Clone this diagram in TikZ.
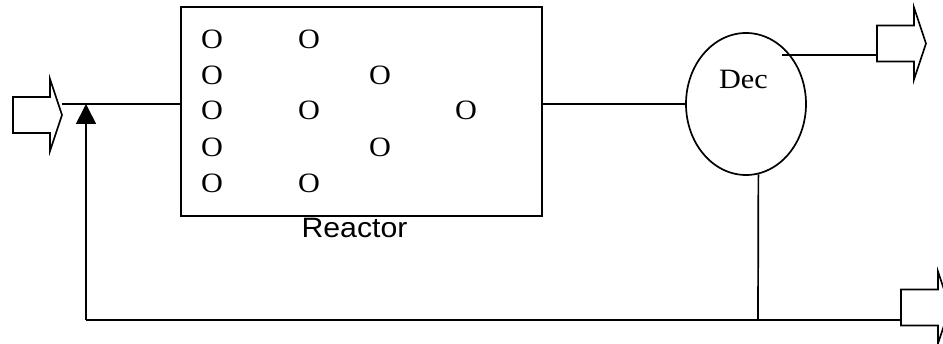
\documentclass[tikz,border=0pt]{standalone}
\usepackage{fontspec}
\setmainfont{Liberation Serif}[FakeStretch=1.08]
\setsansfont{Liberation Sans}[FakeStretch=1.08]
\usetikzlibrary{shapes.geometric,arrows.meta,positioning}
\tikzset{
  flow/.style={line width=1.7pt},
  unit/.style={draw, line width=1.7pt, inner sep=0pt},
  bead/.style={font=\fontsize{28}{30}\selectfont, inner sep=0pt},
  hollowarrow/.pic={\draw[flow] (0,-18)--(37,-18)--(37,-36)--(49,0)--(37,36)--(37,18)--(0,18)--cycle;},
}

\begin{document}
\begin{tikzpicture}[x=1pt,y=1pt]
  \useasboundingbox (0,0) rectangle (943,343);

  % units
  \node[unit, minimum width=361pt, minimum height=209pt] (reactor) at (361.5,231.5) {};
  \node[unit, ellipse, minimum width=120pt, minimum height=142pt] (dec) at (746,239) {};
  \node[bead] (declabel) at (743.5,264) {Dec};
  \node[font=\sffamily\fontsize{28}{30}\selectfont, inner sep=0pt] (reactorlabel) at (354.5,115) {Reactor};

  % beads in the reactor
  \foreach \x/\y [count=\i] in {212/304, 309/304, 212/268, 380/268, 212/233, 309/233,
                                466/233, 212/196, 380/196, 212/160, 309/160}
    \node[bead] (bead\i) at (\x,\y) {O};

  % feed
  \pic at (13,228) {hollowarrow};
  \coordinate (feed) at (62,239);
  \coordinate (mix) at (86,239);
  \draw[flow] (feed) -- (feed -| reactor.west);
  \draw[flow] (reactor.east |- dec.west) -- (dec.west);

  % top product
  \pic at (877,299.5) {hollowarrow};
  \coordinate (topstart) at (782,288);
  \coordinate (topout) at (877,288);
  \draw[flow] (topstart) -- (topout);

  % bottom product and recycle
  \pic at (901,35.5) {hollowarrow};
  \coordinate (split) at (758,23);
  \coordinate (ret) at (86,23);
  \coordinate (bottomout) at (901,23);
  \draw[flow] (dec.-80) -- (split);
  \draw[flow] (ret) -- (bottomout);
  \draw[flow, -{Triangle[width=20pt,length=20pt]}] (ret) -- (mix);
\end{tikzpicture}
\end{document}
